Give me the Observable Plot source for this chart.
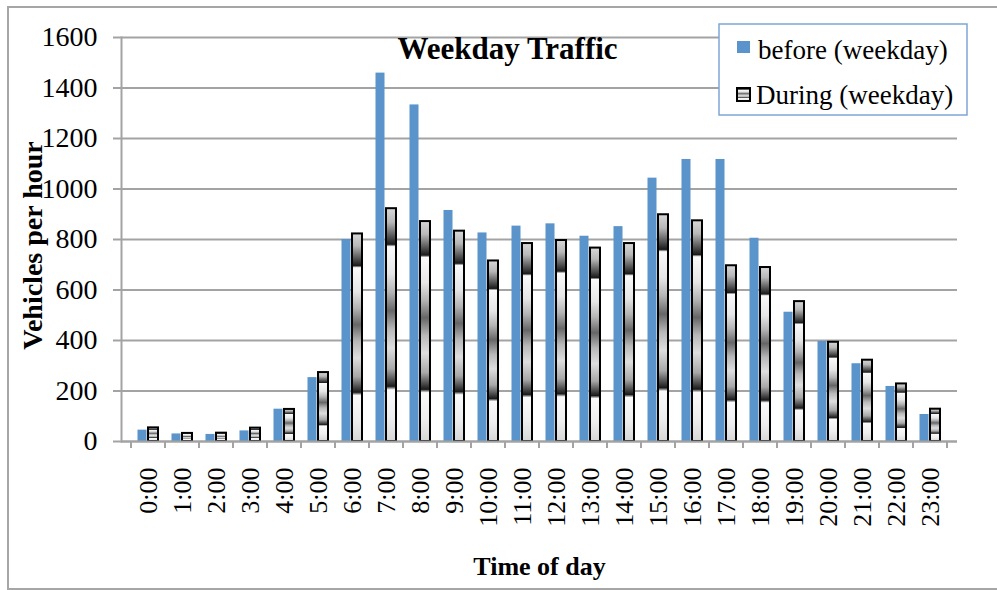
<!DOCTYPE html>
<html>
<head>
<meta charset="utf-8">
<script src="https://cdn.jsdelivr.net/npm/d3@7"></script>
<script src="https://cdn.jsdelivr.net/npm/@observablehq/plot@0.6"></script>
<style>
  html, body { margin: 0; padding: 0; background: #fff; }
  #chart { width: 997px; height: 590px; position: relative; overflow: hidden; }
</style>
</head>
<body>
<div id="chart"></div>
<script>
const hours = ["0:00","1:00","2:00","3:00","4:00","5:00","6:00","7:00","8:00","9:00","10:00","11:00",
  "12:00","13:00","14:00","15:00","16:00","17:00","18:00","19:00","20:00","21:00","22:00","23:00"];
const beforeWeekday = [45, 30, 28, 42, 128, 253, 800, 1459, 1333, 915, 826, 853, 862, 813, 851, 1043, 1117, 1117, 805, 512, 396, 308, 218, 107];
const duringWeekday = [54, 32, 33, 53, 127, 273, 822, 922, 871, 833, 715, 784, 796, 766, 784, 898, 874, 696, 689, 554, 393, 322, 228, 128];
const yTicks = [0, 200, 400, 600, 800, 1000, 1200, 1400, 1600];
const seriesNames = ["before (weekday)", "During (weekday)"];
const chartTitle = "Weekday Traffic";
const xTitle = "Time of day";
const yTitle = "Vehicles per hour";

const FONT = "'Liberation Serif', 'Times New Roman', serif";
const BLUE = "#5b94ca";
const GRID = "#a3a3a3";

const beforeData = hours.map((h, i) => ({hour: h, value: beforeWeekday[i]}));
const duringData = hours.map((h, i) => ({hour: h, value: duringWeekday[i]}));

const plot = Plot.plot({
  width: 997,
  height: 590,
  marginLeft: 121,
  marginRight: 40,
  marginTop: 37,
  marginBottom: 149,
  style: {fontFamily: FONT, background: "white", color: "black"},
  x: {domain: hours, padding: 0, label: null},
  y: {domain: [0, 1600], label: null},
  marks: [
    Plot.gridY(yTicks, {stroke: GRID, strokeOpacity: 1, strokeWidth: 2}),
    Plot.barY(beforeData, {x: "hour", y: "value", fill: BLUE, insetLeft: 6.5, insetRight: 18.5}),
    Plot.barY(duringData, {x: "hour", y: "value", fill: "url(#duringGrad)", stroke: "black", strokeWidth: 2, insetLeft: 17, insetRight: 7}),
    Plot.frame({anchor: "left", stroke: GRID, strokeWidth: 2}),
    Plot.ruleY([0], {stroke: GRID, strokeWidth: 2}),
    Plot.axisY(yTicks, {tickSize: 8, tickPadding: 16, fontSize: 28, tickFormat: d => String(d), stroke: GRID, strokeWidth: 2, fill: "black", label: null}),
    Plot.axisX({tickSize: 0, tickRotate: -90, tickPadding: 26, fontSize: 26, fill: "black", label: null}),
    Plot.text([chartTitle], {frameAnchor: "top", text: d => d, textAnchor: "middle", lineAnchor: "middle", dx: -32, dy: 12, fontSize: 31, fontWeight: "bold", fill: "black"}),
    Plot.text([xTitle], {frameAnchor: "bottom", text: d => d, textAnchor: "middle", lineAnchor: "middle", dy: 125, fontSize: 26, fontWeight: "bold", fill: "black"}),
    Plot.text([yTitle], {frameAnchor: "left", text: d => d, textAnchor: "middle", lineAnchor: "middle", rotate: -90, dx: -88, dy: 6, fontSize: 28, fontWeight: "bold", fill: "black"})
  ]
});

document.getElementById("chart").appendChild(plot);

const svg = d3.select(plot);
const defs = svg.insert("defs", ":first-child");
const grad = defs.append("linearGradient")
  .attr("id", "duringGrad")
  .attr("x1", 0).attr("y1", 0).attr("x2", 0).attr("y2", 1);
[
  [0, "#d8d8d8"], [0.06, "#b8b8b8"], [0.12, "#555"], [0.155, "#1a1a1a"], [0.165, "#fafafa"],
  [0.28, "#e6e6e6"], [0.36, "#b4b4b4"], [0.44, "#666"], [0.52, "#b8b8b8"], [0.6, "#dedede"],
  [0.69, "#a8a8a8"], [0.765, "#1a1a1a"], [0.78, "#fafafa"], [0.9, "#eeeeee"], [1, "#d6d6d6"]
].forEach(([o, c]) => grad.append("stop").attr("offset", o).attr("stop-color", c));

// x-axis boundary ticks using the plot's own x scale
const xs = plot.scale("x");
const ys = plot.scale("y");
const y0 = ys.apply(0);
const bounds = hours.map(h => xs.apply(h)).concat([xs.apply(hours[hours.length - 1]) + xs.bandwidth]);
const tickG = svg.append("g");
bounds.forEach(bx => {
  tickG.append("line").attr("x1", bx).attr("x2", bx).attr("y1", y0).attr("y2", y0 + 7)
    .attr("stroke", GRID).attr("stroke-width", 2);
});

// outer chart border
svg.append("rect").attr("x", 8).attr("y", 7).attr("width", 1000).attr("height", 582)
  .attr("fill", "none").attr("stroke", "#a6a6a6").attr("stroke-width", 2);

// legend
const lg = svg.append("g").attr("font-family", FONT).attr("text-anchor", "start");
lg.append("rect").attr("x", 719).attr("y", 24).attr("width", 248).attr("height", 91)
  .attr("fill", "white").attr("stroke", "#7fa6d5").attr("stroke-width", 1.5);
lg.append("rect").attr("x", 737).attr("y", 41).attr("width", 13).attr("height", 12).attr("fill", BLUE);
lg.append("rect").attr("x", 737).attr("y", 88).attr("width", 13).attr("height", 13)
  .attr("fill", "url(#duringGrad)").attr("stroke", "black").attr("stroke-width", 2);
lg.append("text").attr("x", 758).attr("y", 59).attr("font-size", 27).attr("fill", "black").attr("text-anchor", "start").text(seriesNames[0]);
lg.append("text").attr("x", 756).attr("y", 104).attr("font-size", 27).attr("fill", "black").attr("text-anchor", "start").text(seriesNames[1]);
</script>
</body>
</html>
